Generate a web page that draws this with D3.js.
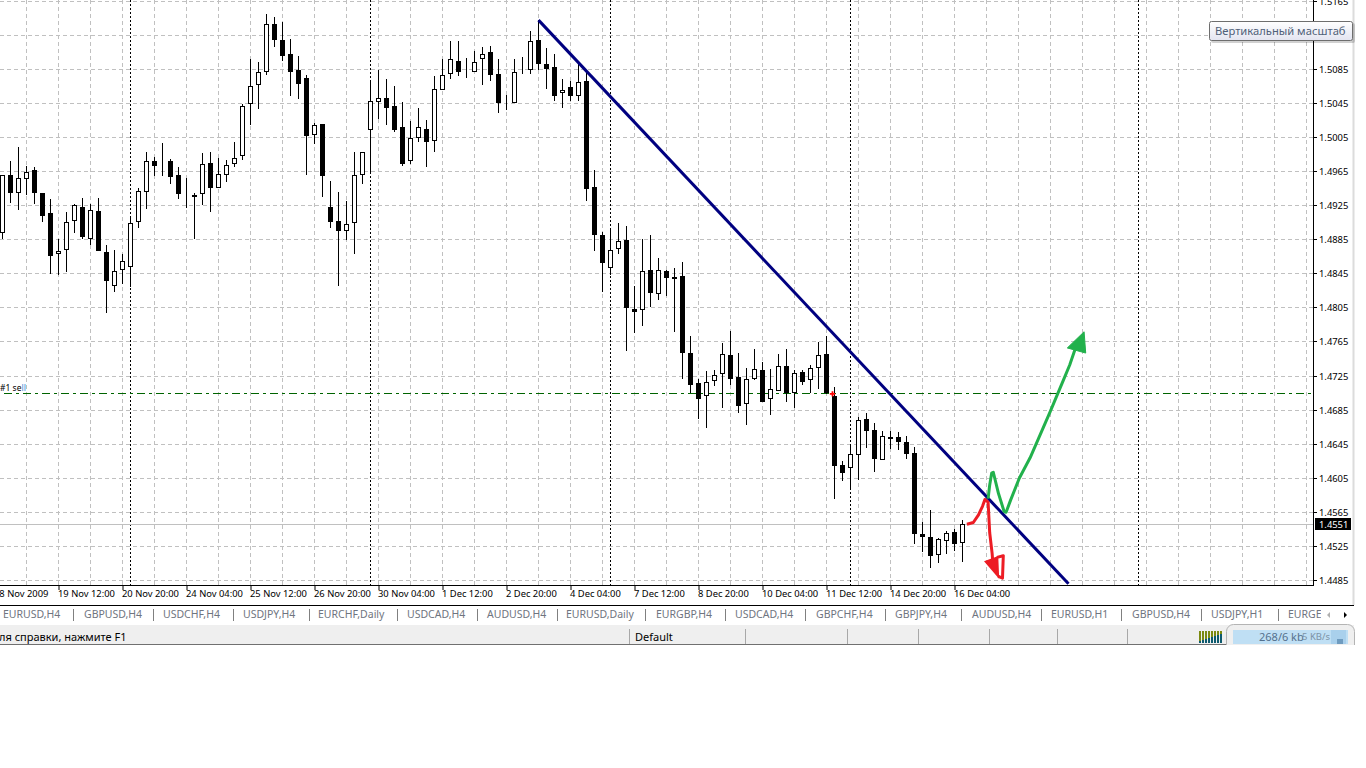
<!DOCTYPE html>
<html>
<head>
<meta charset="utf-8">
<script src="https://cdn.jsdelivr.net/npm/d3@7"></script>
<style>
  html, body { margin: 0; padding: 0; background: #fff; overflow: hidden; }
  svg { display: block; }
  text { font-family: "Noto Sans", sans-serif; }
</style>
</head>
<body>
<div id="chart"></div>
<script>
// EURUSD H4 candles
const highs = [
  1.4961,1.4978,1.4994,1.4972,1.4971,1.4940,1.4933,1.4886,1.4918,1.4927,
  1.4934,1.4927,1.4934,1.4879,1.4873,1.4868,1.4911,1.4946,1.4988,1.4982,
  1.4999,1.4980,1.4970,1.4958,1.4940,1.4987,1.4988,1.4981,1.4979,1.5000,
  1.5045,1.5097,1.5094,1.5150,1.5147,1.5141,1.5121,1.5101,1.5079,1.5022,
  1.5021,1.4954,1.4941,1.4930,1.4988,1.4988,1.5073,1.5084,1.5074,1.5066,
  1.5047,1.5024,1.5040,1.5026,1.5077,1.5097,1.5118,1.5118,1.5099,1.5107,
  1.5112,1.5113,1.5097,1.5055,1.5097,1.5100,1.5130,1.5143,1.5110,1.5103,
  1.5074,1.5072,1.5093,1.5081,1.4967,1.4894,1.4897,1.4905,1.4901,1.4831,
  1.4886,1.4891,1.4864,1.4850,1.4852,1.4859,1.4772,1.4721,1.4731,1.4732,
  1.4764,1.4778,1.4752,1.4735,1.4757,1.4741,1.4733,1.4751,1.4757,1.4732,
  1.4732,1.4738,1.4765,1.4772,1.4712,1.4625,1.4644,1.4677,1.4682,1.4670,
  1.4661,1.4661,1.4659,1.4655,1.4642,1.4554,1.4568,1.4535,1.4543,1.4545,1.4556
];
const lows = [
  1.4886,1.4928,1.4920,1.4938,1.4927,1.4906,1.4845,1.4844,1.4847,1.4893,
  1.4886,1.4879,1.4872,1.4799,1.4824,1.4833,1.4830,1.4899,1.4921,1.4960,
  1.4960,1.4951,1.4933,1.4922,1.4886,1.4926,1.4918,1.4946,1.4953,1.4971,
  1.4979,1.5020,1.5039,1.5079,1.5112,1.5095,1.5054,1.5050,1.4961,1.4998,
  1.4935,1.4899,1.4831,1.4885,1.4868,1.4951,1.4964,1.5027,1.5020,1.5012,
  1.4972,1.4974,1.5000,1.4971,1.4988,1.5061,1.5074,1.5077,1.5075,1.5082,
  1.5067,1.5071,1.5034,1.5037,1.5046,1.5080,1.5080,1.5084,1.5062,1.5048,
  1.5040,1.5048,1.5048,1.4930,1.4872,1.4824,1.4844,1.4868,1.4755,1.4775,
  1.4784,1.4806,1.4814,1.4819,1.4777,1.4722,1.4705,1.4675,1.4664,1.4713,
  1.4687,1.4715,1.4682,1.4668,1.4720,1.4694,1.4679,1.4708,1.4695,1.4688,
  1.4715,1.4705,1.4710,1.4704,1.4581,1.4602,1.4591,1.4603,1.4641,1.4612,
  1.4626,1.4639,1.4638,1.4627,1.4528,1.4518,1.4499,1.4505,1.4516,1.4520,1.4507
];
const opens = [
  1.4893,1.4961,1.4940,1.4957,1.4967,1.4940,1.4917,1.4868,1.4873,1.4907,
  1.4924,1.4886,1.4919,1.4871,1.4831,1.4850,1.4853,1.4906,1.4941,1.4977,
  1.4977,1.4978,1.4961,1.4934,1.4935,1.4939,1.4975,1.4946,1.4961,1.4974,
  1.4984,1.5044,1.5067,1.5082,1.5139,1.5120,1.5103,1.5085,1.5075,1.5008,
  1.5021,1.4924,1.4907,1.4895,1.4905,1.4961,1.5014,1.5047,1.5051,1.5042,
  1.5017,1.4977,1.5004,1.5015,1.5001,1.5061,1.5080,1.5095,1.5082,1.5082,
  1.5097,1.5105,1.5080,1.5047,1.5046,1.5082,1.5084,1.5120,1.5091,1.5088,
  1.5057,1.5065,1.5054,1.5071,1.4947,1.4891,1.4852,1.4874,1.4885,1.4804,
  1.4802,1.4850,1.4821,1.4848,1.4841,1.4842,1.4752,1.4717,1.4701,1.4719,
  1.4727,1.4750,1.4724,1.4692,1.4721,1.4732,1.4698,1.4708,1.4737,1.4705,
  1.4730,1.4720,1.4734,1.4751,1.4702,1.4621,1.4617,1.4632,1.4674,1.4662,
  1.4626,1.4654,1.4653,1.4648,1.4635,1.4539,1.4536,1.4515,1.4531,1.4542,1.4529
];
const closes = [
  1.4961,1.4940,1.4958,1.4965,1.4940,1.4913,1.4866,1.4872,1.4906,1.4926,
  1.4888,1.4920,1.4872,1.4837,1.4848,1.4860,1.4905,1.4942,1.4978,1.4972,
  1.4979,1.4959,1.4939,1.4934,1.4938,1.4974,1.4946,1.4962,1.4973,1.4981,
  1.5042,1.5066,1.5082,1.5138,1.5120,1.5101,1.5082,1.5068,1.5007,1.5020,
  1.4960,1.4906,1.4895,1.4904,1.4961,1.4988,1.5048,1.5052,1.5040,1.5014,
  1.4974,1.5005,1.5017,1.5000,1.5062,1.5079,1.5097,1.5082,1.5082,1.5094,
  1.5103,1.5078,1.5046,1.5047,1.5082,1.5082,1.5119,1.5092,1.5086,1.5054,
  1.5061,1.5054,1.5070,1.4945,1.4891,1.4858,1.4873,1.4884,1.4805,1.4800,
  1.4848,1.4822,1.4850,1.4840,1.4839,1.4752,1.4715,1.4698,1.4718,1.4726,
  1.4751,1.4722,1.4690,1.4722,1.4733,1.4695,1.4710,1.4737,1.4705,1.4728,
  1.4718,1.4734,1.4750,1.4705,1.4619,1.4611,1.4634,1.4673,1.4661,1.4627,
  1.4655,1.4651,1.4648,1.4633,1.4539,1.4536,1.4514,1.4534,1.4541,1.4528,1.4551
];

// axes
const priceTicks = [1.5165,1.5125,1.5085,1.5045,1.5005,1.4965,1.4925,1.4885,1.4845,1.4805,1.4765,1.4725,1.4685,1.4645,1.4605,1.4565,1.4525,1.4485];
const timeTickBars = [-1,7,15,23,31,39,47,55,63,71,79,87,95,103,111,119];
const timeLabels = ["18 Nov 2009","19 Nov 12:00","20 Nov 20:00","24 Nov 04:00","25 Nov 12:00","26 Nov 20:00","30 Nov 04:00","1 Dec 12:00","2 Dec 20:00","4 Dec 04:00","7 Dec 12:00","8 Dec 20:00","10 Dec 04:00","11 Dec 12:00","14 Dec 20:00","16 Dec 04:00"];
const gridBars = d3.range(3, 164, 4);
const separatorBars = [16, 46, 76, 106, 142];

// lines and hand drawn arrows, [bar, price]
const bidPrice = 1.4551;
const sellPrice = 1.4704;
const sellMark = [103.75, 1.4704];
const trendLine = [[67, 1.5143], [133.25, 1.4481]];
const greenPath = [[123.2,1.4581],[123.4,1.4597],[123.65,1.4611],[123.85,1.4612],[124.5,1.4587],[125.2,1.4566],[125.45,1.4565],[126,1.4579],[127.1,1.4605],[128.45,1.4629],[129.7,1.4656],[130.95,1.4683],[132.6,1.4720],[133.4,1.4738],[134.05,1.4756]];
const greenHead = [[135.2,1.4777],[133.1,1.4758],[135.4,1.4752]];
const redPath = [[120.55,1.4551],[121.35,1.4553],[122,1.4562],[122.5,1.4572],[122.8,1.4580],[123.2,1.4577],[123.4,1.4541],[123.7,1.4517],[123.8,1.4505]];
const redHeadFill = [[122.9,1.4507],[124.35,1.4512],[124.45,1.4490]];
const redHeadEdge = [[124.3,1.4512],[125.1,1.4514],[125,1.44875],[124.45,1.4490]];

// terminal furniture
const tabNames = ["EURUSD,H4","GBPUSD,H4","USDCHF,H4","USDJPY,H4","EURCHF,Daily","USDCAD,H4","AUDUSD,H4","EURUSD,Daily","EURGBP,H4","USDCAD,H4","GBPCHF,H4","GBPJPY,H4","AUDUSD,H4","EURUSD,H1","GBPUSD,H4","USDJPY,H1","EURGE"];
const tabLeft = [3,84,163,243,318,407,487,566,656,735,816,895,972,1051,1132,1211,1288];
const tabSeparators = [73,153,233,309,397,477,557,645,725,805,885,961,1041,1121,1201,1278];
const statusSeparators = [629,745,847,918,989,1057,1127];

const plotRight = 1313, plotBottom = 585;
const bars = d3.range(highs.length);

const svg = d3.select("#chart").append("svg")
  .attr("width", 1366)
  .attr("height", 768);

const defs = svg.append("defs");
defs.append("clipPath").attr("id", "plot")
  .append("rect").attr("width", plotRight).attr("height", plotBottom);
const tipGradient = defs.append("linearGradient").attr("id", "tipFill")
  .attr("x1", 0).attr("x2", 0).attr("y1", 0).attr("y2", 1);
tipGradient.append("stop").attr("offset", "0%").attr("stop-color", "#ffffff");
tipGradient.append("stop").attr("offset", "100%").attr("stop-color", "#e3e4f0");

const x = d3.scaleLinear().domain([0, 120]).range([2.5, 962.5]);
const y = d3.scaleLinear().domain([1.5165, 1.4485]).range([1.4, 580.4]);
const rowY = p => Math.floor(y(p)) + 0.5;

const line = d3.line().x(d => x(d[0])).y(d => y(d[1]));

const plot = svg.append("g").attr("clip-path", "url(#plot)");

// Grid
plot.append("g").selectAll("line")
  .data(priceTicks)
  .enter().append("line")
  .attr("x1", 0).attr("x2", plotRight)
  .attr("y1", rowY).attr("y2", rowY)
  .attr("stroke", "#c0c0c0")
  .attr("stroke-dasharray", "4,3");
plot.append("g").selectAll("line")
  .data(gridBars)
  .enter().append("line")
  .attr("x1", d => x(d)).attr("x2", d => x(d))
  .attr("y1", 0).attr("y2", plotBottom)
  .attr("stroke", "#c0c0c0")
  .attr("stroke-dasharray", "4,3");
plot.append("g").selectAll("line")
  .data(separatorBars)
  .enter().append("line")
  .attr("x1", d => x(d)).attr("x2", d => x(d))
  .attr("y1", 0).attr("y2", plotBottom)
  .attr("stroke", "#000")
  .attr("stroke-dasharray", "2,2");

// Bid line
plot.append("line")
  .attr("x1", 0).attr("x2", plotRight)
  .attr("y1", rowY(bidPrice)).attr("y2", rowY(bidPrice))
  .attr("stroke", "#c0c0c0");

// Sell order line
plot.append("line")
  .attr("x1", 4).attr("x2", plotRight)
  .attr("y1", rowY(sellPrice)).attr("y2", rowY(sellPrice))
  .attr("stroke", "#006400")
  .attr("stroke-dasharray", "8,4,3,4");

// Wicks
plot.append("g").selectAll("line")
  .data(bars)
  .enter().append("line")
  .attr("x1", i => x(i)).attr("x2", i => x(i))
  .attr("y1", i => Math.round(y(highs[i])))
  .attr("y2", i => Math.round(y(lows[i])))
  .attr("stroke", "#000");

// Bodies
plot.append("g").selectAll("rect")
  .data(bars)
  .enter().append("rect")
  .attr("x", i => x(i) - 2)
  .attr("width", 4)
  .attr("y", i => Math.round(y(Math.max(opens[i], closes[i]))) + 0.5)
  .attr("height", i => {
    const h = Math.round(y(Math.min(opens[i], closes[i]))) - Math.round(y(Math.max(opens[i], closes[i])));
    return Math.max(h - 1, 0);
  })
  .attr("fill", i => closes[i] >= opens[i] ? "#fff" : "#000")
  .attr("stroke", "#000");

// Sell marker
plot.append("path")
  .attr("transform", `translate(${x(sellMark[0])},${y(sellMark[1])})`)
  .attr("d", d3.symbol().type(d3.symbolCross).size(16))
  .attr("fill", "#ff0000");

// Trend line
plot.append("path")
  .attr("d", line(trendLine))
  .attr("fill", "none")
  .attr("stroke", "#000080")
  .attr("stroke-width", 3);

// Hand drawn arrows
plot.append("path")
  .attr("d", line(redPath))
  .attr("fill", "none")
  .attr("stroke", "#ed1c24")
  .attr("stroke-width", 3)
  .attr("stroke-linejoin", "round");
plot.append("path")
  .attr("d", line(redHeadFill) + "Z")
  .attr("fill", "#ed1c24")
  .attr("stroke", "#ed1c24")
  .attr("stroke-width", 2);
plot.append("path")
  .attr("d", line(redHeadEdge))
  .attr("fill", "none")
  .attr("stroke", "#ed1c24")
  .attr("stroke-width", 3)
  .attr("stroke-linejoin", "round");
plot.append("path")
  .attr("d", line(greenPath))
  .attr("fill", "none")
  .attr("stroke", "#22b14c")
  .attr("stroke-width", 3)
  .attr("stroke-linejoin", "round");
plot.append("path")
  .attr("d", line(greenHead) + "Z")
  .attr("fill", "#22b14c")
  .attr("stroke", "#22b14c");

// Order label
const sellLabel = plot.append("text")
  .attr("x", 0).attr("y", 391)
  .attr("font-size", 8.5)
  .attr("fill", "#000")
  .text("#1 se");
sellLabel.append("tspan").attr("fill", "#3d8fd8").text("ll");

// Price axis
const yAxis = svg.append("g")
  .attr("transform", `translate(${plotRight},0)`)
  .call(d3.axisRight(y).tickValues(priceTicks).tickSize(4).tickPadding(2).tickFormat(d3.format(".4f")));
yAxis.select(".domain").remove();
yAxis.selectAll(".tick").attr("transform", d => `translate(0,${rowY(d)})`);
yAxis.selectAll("text").attr("font-size", 9.4).style("font-family", '"Noto Sans", sans-serif').attr("fill", "#000");

// Time axis
const xAxis = svg.append("g")
  .attr("transform", `translate(0,${plotBottom})`)
  .call(d3.axisBottom(x).tickValues(timeTickBars).tickSize(5).tickPadding(0)
    .tickFormat((d, i) => timeLabels[i]));
xAxis.select(".domain").remove();
xAxis.selectAll("text")
  .attr("text-anchor", "start")
  .attr("x", -1)
  .attr("font-size", 9.4)
  .style("font-family", '"Noto Sans", sans-serif')
  .attr("fill", "#000");

// Plot border and right edge
svg.append("line").attr("x1", 0).attr("x2", plotRight + 1)
  .attr("y1", plotBottom + 0.5).attr("y2", plotBottom + 0.5).attr("stroke", "#000");
svg.append("line").attr("x1", plotRight + 0.5).attr("x2", plotRight + 0.5)
  .attr("y1", 0).attr("y2", plotBottom + 1).attr("stroke", "#000");
svg.append("line").attr("x1", 1353.5).attr("x2", 1353.5)
  .attr("y1", 0).attr("y2", 605).attr("stroke", "#dcdcdc").attr("stroke-width", 2);

// Bid label
svg.append("rect")
  .attr("x", 1315).attr("y", rowY(bidPrice) - 6.5)
  .attr("width", 36).attr("height", 12)
  .attr("fill", "#000");
svg.append("text")
  .attr("x", 1319).attr("y", rowY(bidPrice) + 3)
  .attr("font-size", 9.4)
  .attr("fill", "#fff")
  .text(d3.format(".4f")(bidPrice));

// Tooltip
svg.append("rect")
  .attr("x", 1211).attr("y", 23).attr("width", 144).attr("height", 20).attr("rx", 2)
  .attr("fill", "#000").attr("opacity", 0.18);
svg.append("rect")
  .attr("x", 1209.5).attr("y", 21.5).attr("width", 143).attr("height", 19).attr("rx", 2)
  .attr("fill", "url(#tipFill)").attr("stroke", "#6e6e6e");
svg.append("text")
  .attr("x", 1215).attr("y", 35)
  .attr("font-size", 11.2)
  .attr("fill", "#4f6078")
  .text("Вертикальный масштаб");

// Tabs
svg.append("line").attr("x1", 0).attr("x2", 1354)
  .attr("y1", 605.5).attr("y2", 605.5).attr("stroke", "#000");
const tabs = svg.append("g");
tabs.selectAll("text")
  .data(tabNames)
  .enter().append("text")
  .attr("x", (d, i) => tabLeft[i])
  .attr("y", 618)
  .attr("font-size", 10.5)
  .attr("fill", "#6f7580")
  .text(d => d);
tabs.selectAll("line")
  .data(tabSeparators)
  .enter().append("line")
  .attr("x1", d => d + 0.5).attr("x2", d => d + 0.5)
  .attr("y1", 609).attr("y2", 621)
  .attr("stroke", "#808080");
svg.append("rect").attr("x", 1321).attr("y", 606).attr("width", 33).attr("height", 19).attr("fill", "#fff");
svg.append("path").attr("d", "M1330,612v6l-3,-3z").attr("fill", "#b0b0b0");
svg.append("path").attr("d", "M1344,612v6l3,-3z").attr("fill", "#000");

// Status bar
svg.append("rect").attr("x", 0).attr("y", 625).attr("width", 1354).attr("height", 19).attr("fill", "#efefef");
svg.append("line").attr("x1", 0).attr("x2", 1354)
  .attr("y1", 644.5).attr("y2", 644.5).attr("stroke", "#707070");
svg.append("g").selectAll("line")
  .data(statusSeparators)
  .enter().append("line")
  .attr("x1", d => d + 0.5).attr("x2", d => d + 0.5)
  .attr("y1", 629).attr("y2", 644)
  .attr("stroke", "#a8a8a8");
svg.append("text").attr("x", -1).attr("y", 641).attr("font-size", 11).attr("fill", "#000")
  .text("ля справки, нажмите F1");
svg.append("text").attr("x", 635).attr("y", 641).attr("font-size", 11).attr("fill", "#000")
  .text("Default");

// Connection bars
const meter = svg.append("g");
meter.selectAll("rect.top")
  .data(d3.range(8))
  .enter().append("rect")
  .attr("x", d => 1199 + d * 3).attr("y", 631).attr("width", 2).attr("height", 12)
  .attr("fill", "#7c8a10");
meter.selectAll("rect.low")
  .data(d3.range(8))
  .enter().append("rect")
  .attr("x", d => 1199 + d * 3).attr("y", d => 641 - d).attr("width", 2).attr("height", d => 2 + d)
  .attr("fill", "#0d5a6e");

// Traffic box
svg.append("rect")
  .attr("x", 1226.5).attr("y", 624.5).attr("width", 128).attr("height", 30).attr("rx", 7)
  .attr("fill", "#efefef").attr("stroke", "#b4b4b4");
svg.append("rect").attr("x", 1233).attr("y", 630).attr("width", 115).attr("height", 14).attr("fill", "#bfdff4");
svg.append("rect").attr("x", 1331).attr("y", 630).attr("width", 15).attr("height", 14).attr("fill", "#a9d0ec");
svg.append("rect").attr("x", 1337).attr("y", 639).attr("width", 6).attr("height", 5).attr("fill", "#6f9cc0");
svg.append("text").attr("x", 1259).attr("y", 641).attr("font-size", 11).attr("fill", "#54708c").text("268/6 kb");
svg.append("text").attr("x", 1302).attr("y", 640).attr("font-size", 9.5).attr("fill", "#7d93a6").text("5 KB/s");
svg.append("rect").attr("x", 0).attr("y", 645).attr("width", 1366).attr("height", 123).attr("fill", "#fff");
</script>
</body>
</html>
